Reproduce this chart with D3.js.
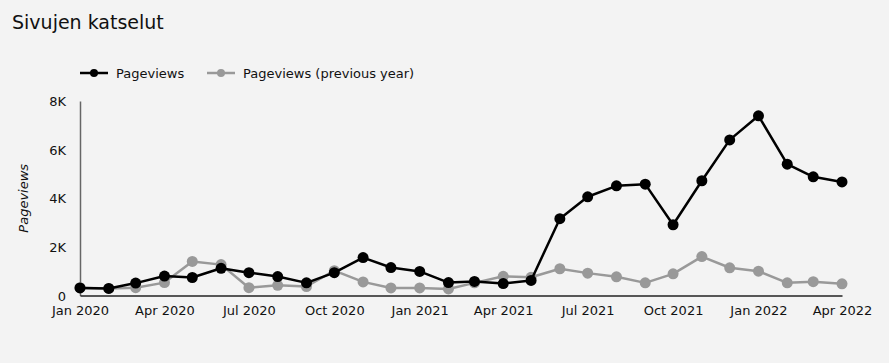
<!DOCTYPE html>
<html>
<head>
<meta charset="utf-8">
<script src="https://cdn.jsdelivr.net/npm/d3@7"></script>
<style>
  body { margin: 0; background: #f3f3f3; }
  svg { display: block; }
  text { font-family: "DejaVu Sans", sans-serif; fill: #111; }
</style>
</head>
<body>
<script>
var months = ["2020-01","2020-02","2020-03","2020-04","2020-05","2020-06","2020-07","2020-08","2020-09","2020-10","2020-11","2020-12",
              "2021-01","2021-02","2021-03","2021-04","2021-05","2021-06","2021-07","2021-08","2021-09","2021-10","2021-11","2021-12",
              "2022-01","2022-02","2022-03","2022-04"];
var pageviews = [310, 290, 510, 800, 740, 1120, 940, 780, 520, 940, 1560, 1150,
                 990, 530, 580, 490, 620, 3160, 4060, 4510, 4580, 2910, 4720, 6400,
                 7390, 5400, 4880, 4670];
var previousYear = [320, 290, 320, 530, 1400, 1270, 320, 420, 370, 1020, 560, 310,
                    310, 270, 520, 790, 750, 1100, 920, 770, 520, 890, 1600, 1140,
                    1000, 520, 570, 480];
var yTicks = [0, 2000, 4000, 6000, 8000];
var xTickMonths = ["2020-01","2020-04","2020-07","2020-10","2021-01","2021-04","2021-07","2021-10","2022-01","2022-04"];

var width = 889, height = 363,
    margin = { top: 101, right: 47, bottom: 67, left: 80 };

var parse = d3.timeParse("%Y-%m");
var dates = months.map(parse);

var svg = d3.select("body").append("svg")
    .attr("width", width).attr("height", height);

svg.append("text")
    .attr("x", 12).attr("y", 29)
    .style("font-size", "19px")
    .text("Sivujen katselut");

var x = d3.scaleTime()
    .domain(d3.extent(dates))
    .range([margin.left, width - margin.right]);
var y = d3.scaleLinear()
    .domain([0, 8000])
    .range([height - margin.bottom - 0.5, margin.top]);

var fmtK = d => d === 0 ? "0" : (d / 1000) + "K";
var fmtMonth = d3.timeFormat("%b %Y");

// axes
var yAxis = svg.append("g")
    .attr("transform", "translate(" + margin.left + ",0)")
    .call(d3.axisLeft(y).tickValues(yTicks).tickFormat(fmtK).tickSize(0).tickPadding(14));
yAxis.select(".domain").attr("stroke", "#666").attr("stroke-width", 1.5);

var xAxis = svg.append("g")
    .attr("transform", "translate(0," + y(0) + ")")
    .call(d3.axisBottom(x).tickValues(xTickMonths.map(parse)).tickFormat(fmtMonth).tickSize(0).tickPadding(10));
xAxis.select(".domain").attr("stroke", "#222").attr("stroke-width", 1.5);

svg.selectAll(".tick text").style("font-size", "13px").attr("fill", "#111");
yAxis.selectAll(".tick text").attr("dy", "0.35em");

svg.append("text")
    .attr("transform", "translate(28," + ((margin.top + y(0)) / 2) + ") rotate(-90)")
    .attr("text-anchor", "middle")
    .style("font-size", "13px")
    .style("font-style", "italic")
    .text("Pageviews");

// series
var series = [
  { name: "Pageviews (previous year)", values: previousYear, color: "#999999" },
  { name: "Pageviews", values: pageviews, color: "#000000" }
];

var line = d3.line().x((d, i) => x(dates[i])).y(d => y(d));

series.forEach(function(s) {
  var g = svg.append("g");
  g.append("path")
      .attr("d", line(s.values))
      .attr("fill", "none")
      .attr("stroke", s.color)
      .attr("stroke-width", 2.5)
      .attr("stroke-linejoin", "round");
  g.selectAll("circle")
      .data(s.values)
      .enter().append("circle")
      .attr("cx", (d, i) => x(dates[i]))
      .attr("cy", d => y(d))
      .attr("r", 5.5)
      .attr("fill", s.color);
});

// legend
var legendItems = [
  { name: "Pageviews", color: "#000000", x: 80 },
  { name: "Pageviews (previous year)", color: "#999999", x: 207 }
];
var legend = svg.selectAll(".legend")
    .data(legendItems).enter().append("g")
    .attr("transform", d => "translate(" + d.x + ",73)");
legend.append("line")
    .attr("x1", 0).attr("x2", 28)
    .attr("stroke", d => d.color).attr("stroke-width", 2.5);
legend.append("circle")
    .attr("cx", 14).attr("r", 4)
    .attr("fill", d => d.color);
legend.append("text")
    .attr("x", 36).attr("dy", "0.35em")
    .style("font-size", "13px")
    .text(d => d.name);
</script>
</body>
</html>
